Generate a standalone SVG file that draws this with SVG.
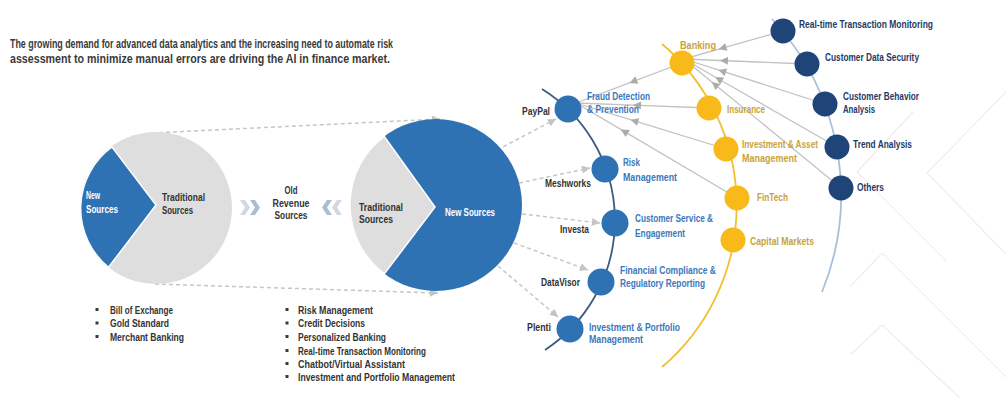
<svg xmlns="http://www.w3.org/2000/svg" width="1006" height="398" viewBox="0 0 1006 398">
  <defs>
    <style>
      text { font-family: "Liberation Sans Narrow", "Liberation Sans", Arial, sans-serif; font-weight: 700; font-size: 10.5px; }
      .title { font-size: 12.5px; fill: #3a3a3a; }
      .dark { fill: #333333; }
      .white { fill: #ffffff; }
      .bl { fill: #3a78bd; }
      .yl { fill: #c9a23a; }
      .nv { fill: #1f3a66; }
      .dot { fill: #3a3a3a; }
      .bg { fill: none; stroke: #eeeeee; stroke-width: 1.2; }
      .dash { fill: none; stroke: #c6c6c6; stroke-width: 1.5; stroke-dasharray: 4 3; marker-end: url(#dashHead); }
      .solid { fill: none; stroke: #c2c2c2; stroke-width: 1.3; marker-mid: url(#midHead); }
      .nodeB { fill: #2e72b4; }
      .nodeY { fill: #f8b91a; }
      .nodeN { fill: #1e4478; }
    </style>
    <marker id="dashHead" viewBox="0 0 10 10" refX="10" refY="5" markerWidth="9" markerHeight="8" markerUnits="userSpaceOnUse" orient="auto">
      <path d="M0,0 L10,5 L0,10 z" fill="#c4c4c4"/>
    </marker>
    <marker id="midHead" viewBox="0 0 10 10" refX="10" refY="5" markerWidth="9" markerHeight="8" markerUnits="userSpaceOnUse" orient="auto">
      <path d="M0,0 L10,5 L0,10 z" fill="#ababab"/>
    </marker>
  </defs>

  <rect width="1006" height="398" fill="#ffffff"/>

  <!-- faint background chevrons -->
  <g id="backdrop">
    <path class="bg" d="M1006,92 L927,173 L1006,254"/>
    <path class="bg" d="M913,112 L857,172 L947,262"/>
    <path class="bg" d="M850,287 L882,253 L1006,377"/>
    <path class="bg" d="M850,355 L882,325 L960,398"/>
  </g>

  <!-- headline -->
  <g id="headline">
    <text class="title" x="10" y="47.5" textLength="383" lengthAdjust="spacingAndGlyphs">The growing demand for advanced data analytics and the increasing need to automate risk</text>
    <text class="title" x="10" y="62.5" textLength="380" lengthAdjust="spacingAndGlyphs">assessment to minimize manual errors are driving the AI in finance market.</text>
  </g>

  <!-- connectors -->
  <g id="connectors">
    <!-- old pie to new pie -->
    <path class="dash" d="M152,133 L440,119"/>
    <path class="dash" d="M155,284 L438,293"/>
    <!-- new pie to companies -->
    <path class="dash" d="M497,150 L556,119"/>
    <path class="dash" d="M519,183 L590,168"/>
    <path class="dash" d="M522,214 L600,223"/>
    <path class="dash" d="M514,243 L588,270"/>
    <path class="dash" d="M498,266 L558,317"/>

    <!-- arcs -->
    <path d="M542,89 A155,155 0 0,1 545,350" fill="none" stroke="#3d5a80" stroke-width="1.8"/>
    <path d="M662,44 A212,212 0 0,1 662,367" fill="none" stroke="#f0c030" stroke-width="1.8"/>
    <path d="M772,19 A258,258 0 0,1 822,292" fill="none" stroke="#a9c0dc" stroke-width="1.8"/>

    <!-- into Banking -->
    <path class="solid" d="M783,31 L718.6,49.2 L684,59"/>
    <path class="solid" d="M807,64 L720,60.5 L684,59"/>
    <path class="solid" d="M825,104 L718.3,69.9 L684,59"/>
    <path class="solid" d="M837,147 L715.2,77 L684,59"/>
    <path class="solid" d="M841,188 L711.8,81.9 L684,59"/>
    <!-- into Fraud Detection -->
    <path class="solid" d="M682,63 L629.4,82.9 L576,103"/>
    <path class="solid" d="M709,108 L633,105.1 L576,103"/>
    <path class="solid" d="M726,149 L630.5,119.7 L576,103"/>
    <path class="solid" d="M737,198 L620.8,129.4 L576,103"/>
  </g>

  <!-- old revenue pie -->
  <g id="old-pie">
    <circle cx="156" cy="208" r="76" fill="#dedede"/>
    <path d="M156,205 L112,147 A76,76 0 0,0 108.5,267.3 Z" fill="#2e72b4" stroke="#ffffff" stroke-width="1.5"/>
    <text class="white" x="86" y="199" textLength="14" lengthAdjust="spacingAndGlyphs">New</text>
    <text class="white" x="86" y="213" textLength="32" lengthAdjust="spacingAndGlyphs">Sources</text>
    <text class="dark" x="162" y="201" textLength="43" lengthAdjust="spacingAndGlyphs">Traditional</text>
    <text class="dark" x="162" y="214" textLength="31" lengthAdjust="spacingAndGlyphs">Sources</text>
  </g>

  <!-- middle caption -->
  <g id="old-revenue">
    <polygon points="240,200 245,200 250,207.5 245,215 240,215 245,207.5" fill="#cfd9e4"/>
    <polygon points="250,200 255,200 260,207.5 255,215 250,215 255,207.5" fill="#a9bdd3"/>
    <text class="dark" x="291" y="193.5" text-anchor="middle" textLength="13" lengthAdjust="spacingAndGlyphs">Old</text>
    <text class="dark" x="291" y="206.5" text-anchor="middle" textLength="37" lengthAdjust="spacingAndGlyphs">Revenue</text>
    <text class="dark" x="291" y="219" text-anchor="middle" textLength="33" lengthAdjust="spacingAndGlyphs">Sources</text>
    <polygon points="342,200 337,200 332,207.5 337,215 342,215 337,207.5" fill="#cfd9e4"/>
    <polygon points="332,200 327,200 322,207.5 327,215 332,215 327,207.5" fill="#a9bdd3"/>
  </g>

  <!-- new revenue pie -->
  <g id="new-pie">
    <circle cx="436" cy="205" r="86" fill="#2e72b4"/>
    <path d="M435,207 L384.2,136.3 A86,86 0 0,0 384.4,273.8 Z" fill="#dedede" stroke="#ffffff" stroke-width="1.5"/>
    <text class="dark" x="359" y="211" textLength="44" lengthAdjust="spacingAndGlyphs">Traditional</text>
    <text class="dark" x="359" y="223" textLength="34" lengthAdjust="spacingAndGlyphs">Sources</text>
    <text class="white" x="445" y="216" textLength="50" lengthAdjust="spacingAndGlyphs">New Sources</text>
  </g>

  <!-- bullet lists -->
  <g id="old-list">
    <rect class="dot" x="95.5" y="308" width="3" height="3"/>
    <rect class="dot" x="95.5" y="321.5" width="3" height="3"/>
    <rect class="dot" x="95.5" y="335" width="3" height="3"/>
    <text class="dark" x="110" y="313.5" textLength="63" lengthAdjust="spacingAndGlyphs">Bill of Exchange</text>
    <text class="dark" x="110" y="327" textLength="59" lengthAdjust="spacingAndGlyphs">Gold Standard</text>
    <text class="dark" x="110" y="340.5" textLength="74" lengthAdjust="spacingAndGlyphs">Merchant Banking</text>
  </g>
  <g id="new-list">
    <rect class="dot" x="285.5" y="308" width="3" height="3"/>
    <rect class="dot" x="285.5" y="321.5" width="3" height="3"/>
    <rect class="dot" x="285.5" y="335" width="3" height="3"/>
    <rect class="dot" x="285.5" y="349" width="3" height="3"/>
    <rect class="dot" x="285.5" y="362" width="3" height="3"/>
    <rect class="dot" x="285.5" y="375" width="3" height="3"/>
    <text class="dark" x="298" y="313.5" textLength="75" lengthAdjust="spacingAndGlyphs">Risk Management</text>
    <text class="dark" x="298" y="327" textLength="67" lengthAdjust="spacingAndGlyphs">Credit Decisions</text>
    <text class="dark" x="298" y="340.5" textLength="88" lengthAdjust="spacingAndGlyphs">Personalized Banking</text>
    <text class="dark" x="298" y="354.5" textLength="128" lengthAdjust="spacingAndGlyphs">Real-time Transaction Monitoring</text>
    <text class="dark" x="298" y="367.5" textLength="107" lengthAdjust="spacingAndGlyphs">Chatbot/Virtual Assistant</text>
    <text class="dark" x="298" y="380.5" textLength="157" lengthAdjust="spacingAndGlyphs">Investment and Portfolio Management</text>
  </g>

  <!-- use-case nodes -->
  <g id="fraud-detection">
    <circle class="nodeB" cx="568" cy="109" r="13.5"/>
    <text class="dark" x="522" y="114.5" textLength="28" lengthAdjust="spacingAndGlyphs">PayPal</text>
    <text class="bl" x="587" y="99.5" textLength="63" lengthAdjust="spacingAndGlyphs">Fraud Detection</text>
    <text class="bl" x="587" y="112.5" textLength="52" lengthAdjust="spacingAndGlyphs">&amp; Prevention</text>
  </g>
  <g id="risk-management">
    <circle class="nodeB" cx="605" cy="169" r="13.5"/>
    <text class="dark" x="545" y="186.5" textLength="46" lengthAdjust="spacingAndGlyphs">Meshworks</text>
    <text class="bl" x="623" y="165.5" textLength="17" lengthAdjust="spacingAndGlyphs">Risk</text>
    <text class="bl" x="623" y="180.5" textLength="54" lengthAdjust="spacingAndGlyphs">Management</text>
  </g>
  <g id="customer-service">
    <circle class="nodeB" cx="615" cy="223" r="13.5"/>
    <text class="dark" x="560" y="232.5" textLength="29" lengthAdjust="spacingAndGlyphs">Investa</text>
    <text class="bl" x="635" y="221.5" textLength="78" lengthAdjust="spacingAndGlyphs">Customer Service &amp;</text>
    <text class="bl" x="635" y="236.5" textLength="50" lengthAdjust="spacingAndGlyphs">Engagement</text>
  </g>
  <g id="financial-compliance">
    <circle class="nodeB" cx="601" cy="282" r="13.5"/>
    <text class="dark" x="541" y="285.5" textLength="39" lengthAdjust="spacingAndGlyphs">DataVisor</text>
    <text class="bl" x="620" y="273.5" textLength="96" lengthAdjust="spacingAndGlyphs">Financial Compliance &amp;</text>
    <text class="bl" x="620" y="286.5" textLength="85" lengthAdjust="spacingAndGlyphs">Regulatory Reporting</text>
  </g>
  <g id="investment-portfolio">
    <circle class="nodeB" cx="570" cy="329" r="13.5"/>
    <text class="dark" x="527" y="330.5" textLength="24" lengthAdjust="spacingAndGlyphs">Plenti</text>
    <text class="bl" x="589" y="330.5" textLength="91" lengthAdjust="spacingAndGlyphs">Investment &amp; Portfolio</text>
    <text class="bl" x="589" y="342.5" textLength="54" lengthAdjust="spacingAndGlyphs">Management</text>
  </g>

  <!-- industry nodes -->
  <g id="banking">
    <circle class="nodeY" cx="682" cy="63" r="12.5"/>
    <text class="yl" x="680" y="48.5" textLength="36" lengthAdjust="spacingAndGlyphs">Banking</text>
  </g>
  <g id="insurance">
    <circle class="nodeY" cx="709" cy="108" r="12.5"/>
    <text class="yl" x="727" y="112.5" textLength="38" lengthAdjust="spacingAndGlyphs">Insurance</text>
  </g>
  <g id="investment-asset">
    <circle class="nodeY" cx="726" cy="149" r="12.5"/>
    <text class="yl" x="742" y="147.5" textLength="76" lengthAdjust="spacingAndGlyphs">Investment &amp; Asset</text>
    <text class="yl" x="742" y="161.5" textLength="55" lengthAdjust="spacingAndGlyphs">Management</text>
  </g>
  <g id="fintech">
    <circle class="nodeY" cx="737" cy="198" r="12.5"/>
    <text class="yl" x="757" y="200.5" textLength="31" lengthAdjust="spacingAndGlyphs">FinTech</text>
  </g>
  <g id="capital-markets">
    <circle class="nodeY" cx="733" cy="240" r="12.5"/>
    <text class="yl" x="750" y="244.5" textLength="64" lengthAdjust="spacingAndGlyphs">Capital Markets</text>
  </g>

  <!-- application nodes -->
  <g id="realtime-monitoring">
    <circle class="nodeN" cx="783" cy="31" r="12.5"/>
    <text class="nv" x="799" y="27.5" textLength="134" lengthAdjust="spacingAndGlyphs">Real-time Transaction Monitoring</text>
  </g>
  <g id="customer-data-security">
    <circle class="nodeN" cx="807" cy="64" r="12.5"/>
    <text class="nv" x="825" y="60.5" textLength="94" lengthAdjust="spacingAndGlyphs">Customer Data Security</text>
  </g>
  <g id="customer-behavior">
    <circle class="nodeN" cx="825" cy="104" r="12.5"/>
    <text class="nv" x="843" y="99.5" textLength="76" lengthAdjust="spacingAndGlyphs">Customer Behavior</text>
    <text class="nv" x="843" y="112.5" textLength="32" lengthAdjust="spacingAndGlyphs">Analysis</text>
  </g>
  <g id="trend-analysis">
    <circle class="nodeN" cx="837" cy="147" r="12.5"/>
    <text class="nv" x="853" y="147.5" textLength="59" lengthAdjust="spacingAndGlyphs">Trend Analysis</text>
  </g>
  <g id="others">
    <circle class="nodeN" cx="841" cy="188" r="12.5"/>
    <text class="nv" x="857" y="190.5" textLength="27" lengthAdjust="spacingAndGlyphs">Others</text>
  </g>
</svg>
